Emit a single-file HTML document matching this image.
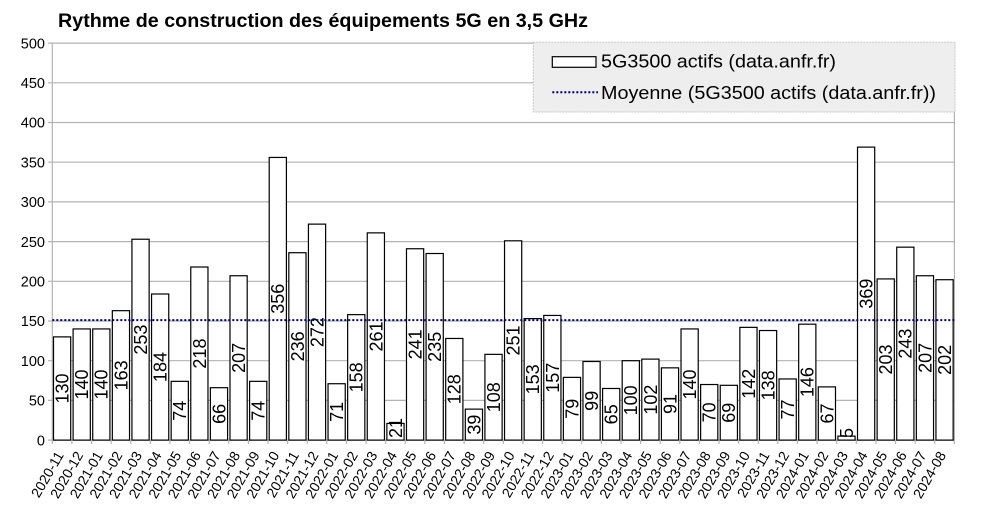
<!DOCTYPE html>
<html><head><meta charset="utf-8"><style>
html,body{margin:0;padding:0;background:#fff;}
svg{display:block;font-family:"Liberation Sans",Arial,sans-serif;}
.yl{font-size:14.5px;text-anchor:end;fill:#000;}
.xl{font-size:14px;text-anchor:end;fill:#000;}
.bl{font-size:18px;text-anchor:middle;fill:#000;}
.bar{fill:#fff;stroke:#000;stroke-width:1.2;}
</style></head><body>
<svg width="985" height="508" viewBox="0 0 985 508" xmlns="http://www.w3.org/2000/svg">
<rect x="0" y="0" width="985" height="508" fill="#fff"/>
<text x="58" y="27" font-size="19" font-weight="bold" textLength="530" lengthAdjust="spacingAndGlyphs">Rythme de construction des équipements 5G en 3,5 GHz</text>
<g stroke="#b3b3b3" stroke-width="1.2">
<line x1="48" y1="440.1" x2="954.4" y2="440.1"/>
<line x1="48" y1="400.4" x2="954.4" y2="400.4"/>
<line x1="48" y1="360.7" x2="954.4" y2="360.7"/>
<line x1="48" y1="321.0" x2="954.4" y2="321.0"/>
<line x1="48" y1="281.3" x2="954.4" y2="281.3"/>
<line x1="48" y1="241.6" x2="954.4" y2="241.6"/>
<line x1="48" y1="201.9" x2="954.4" y2="201.9"/>
<line x1="48" y1="162.2" x2="954.4" y2="162.2"/>
<line x1="48" y1="122.5" x2="954.4" y2="122.5"/>
<line x1="48" y1="82.8" x2="954.4" y2="82.8"/>
<line x1="48" y1="43.1" x2="954.4" y2="43.1"/>
<line x1="52.3" y1="43.1" x2="52.3" y2="444"/>
<line x1="954.4" y1="43.1" x2="954.4" y2="444"/>
<line x1="71.91" y1="440" x2="71.91" y2="444"/><line x1="91.52" y1="440" x2="91.52" y2="444"/><line x1="111.13" y1="440" x2="111.13" y2="444"/><line x1="130.74" y1="440" x2="130.74" y2="444"/><line x1="150.35" y1="440" x2="150.35" y2="444"/><line x1="169.96" y1="440" x2="169.96" y2="444"/><line x1="189.57" y1="440" x2="189.57" y2="444"/><line x1="209.18" y1="440" x2="209.18" y2="444"/><line x1="228.79" y1="440" x2="228.79" y2="444"/><line x1="248.4" y1="440" x2="248.4" y2="444"/><line x1="268.01" y1="440" x2="268.01" y2="444"/><line x1="287.62" y1="440" x2="287.62" y2="444"/><line x1="307.23" y1="440" x2="307.23" y2="444"/><line x1="326.84" y1="440" x2="326.84" y2="444"/><line x1="346.45" y1="440" x2="346.45" y2="444"/><line x1="366.06" y1="440" x2="366.06" y2="444"/><line x1="385.67" y1="440" x2="385.67" y2="444"/><line x1="405.28" y1="440" x2="405.28" y2="444"/><line x1="424.89" y1="440" x2="424.89" y2="444"/><line x1="444.5" y1="440" x2="444.5" y2="444"/><line x1="464.11" y1="440" x2="464.11" y2="444"/><line x1="483.72" y1="440" x2="483.72" y2="444"/><line x1="503.33" y1="440" x2="503.33" y2="444"/><line x1="522.94" y1="440" x2="522.94" y2="444"/><line x1="542.55" y1="440" x2="542.55" y2="444"/><line x1="562.16" y1="440" x2="562.16" y2="444"/><line x1="581.77" y1="440" x2="581.77" y2="444"/><line x1="601.38" y1="440" x2="601.38" y2="444"/><line x1="620.99" y1="440" x2="620.99" y2="444"/><line x1="640.6" y1="440" x2="640.6" y2="444"/><line x1="660.21" y1="440" x2="660.21" y2="444"/><line x1="679.82" y1="440" x2="679.82" y2="444"/><line x1="699.43" y1="440" x2="699.43" y2="444"/><line x1="719.04" y1="440" x2="719.04" y2="444"/><line x1="738.65" y1="440" x2="738.65" y2="444"/><line x1="758.26" y1="440" x2="758.26" y2="444"/><line x1="777.87" y1="440" x2="777.87" y2="444"/><line x1="797.48" y1="440" x2="797.48" y2="444"/><line x1="817.09" y1="440" x2="817.09" y2="444"/><line x1="836.7" y1="440" x2="836.7" y2="444"/><line x1="856.31" y1="440" x2="856.31" y2="444"/><line x1="875.92" y1="440" x2="875.92" y2="444"/><line x1="895.53" y1="440" x2="895.53" y2="444"/><line x1="915.14" y1="440" x2="915.14" y2="444"/><line x1="934.75" y1="440" x2="934.75" y2="444"/>
</g>
<g>
<text class="yl" x="45" y="445.3">0</text>
<text class="yl" x="45" y="405.6">50</text>
<text class="yl" x="45" y="365.9">100</text>
<text class="yl" x="45" y="326.2">150</text>
<text class="yl" x="45" y="286.5">200</text>
<text class="yl" x="45" y="246.8">250</text>
<text class="yl" x="45" y="207.1">300</text>
<text class="yl" x="45" y="167.4">350</text>
<text class="yl" x="45" y="127.7">400</text>
<text class="yl" x="45" y="88.0">450</text>
<text class="yl" x="45" y="48.3">500</text>
</g>

<g transform="translate(52.3,0)"><rect class="bar" x="1.2" y="336.88" width="17.2" height="103.22"/><text class="bl" transform="translate(16.2,388.49) rotate(-90)">130</text><text class="xl" transform="translate(11.8,455) rotate(-60)">2020-11</text></g>
<g transform="translate(71.91,0)"><rect class="bar" x="1.2" y="328.94" width="17.2" height="111.16"/><text class="bl" transform="translate(16.2,384.52) rotate(-90)">140</text><text class="xl" transform="translate(11.8,455) rotate(-60)">2020-12</text></g>
<g transform="translate(91.52,0)"><rect class="bar" x="1.2" y="328.94" width="17.2" height="111.16"/><text class="bl" transform="translate(16.2,384.52) rotate(-90)">140</text><text class="xl" transform="translate(11.8,455) rotate(-60)">2021-01</text></g>
<g transform="translate(111.13,0)"><rect class="bar" x="1.2" y="310.68" width="17.2" height="129.42"/><text class="bl" transform="translate(16.2,375.39) rotate(-90)">163</text><text class="xl" transform="translate(11.8,455) rotate(-60)">2021-02</text></g>
<g transform="translate(130.74,0)"><rect class="bar" x="1.2" y="239.22" width="17.2" height="200.88"/><text class="bl" transform="translate(16.2,339.66) rotate(-90)">253</text><text class="xl" transform="translate(11.8,455) rotate(-60)">2021-03</text></g>
<g transform="translate(150.35,0)"><rect class="bar" x="1.2" y="294.0" width="17.2" height="146.1"/><text class="bl" transform="translate(16.2,367.05) rotate(-90)">184</text><text class="xl" transform="translate(11.8,455) rotate(-60)">2021-04</text></g>
<g transform="translate(169.96,0)"><rect class="bar" x="1.2" y="381.34" width="17.2" height="58.76"/><text class="bl" transform="translate(16.2,410.72) rotate(-90)">74</text><text class="xl" transform="translate(11.8,455) rotate(-60)">2021-05</text></g>
<g transform="translate(189.57,0)"><rect class="bar" x="1.2" y="267.01" width="17.2" height="173.09"/><text class="bl" transform="translate(16.2,353.56) rotate(-90)">218</text><text class="xl" transform="translate(11.8,455) rotate(-60)">2021-06</text></g>
<g transform="translate(209.18,0)"><rect class="bar" x="1.2" y="387.7" width="17.2" height="52.4"/><text class="bl" transform="translate(16.2,413.9) rotate(-90)">66</text><text class="xl" transform="translate(11.8,455) rotate(-60)">2021-07</text></g>
<g transform="translate(228.79,0)"><rect class="bar" x="1.2" y="275.74" width="17.2" height="164.36"/><text class="bl" transform="translate(16.2,357.92) rotate(-90)">207</text><text class="xl" transform="translate(11.8,455) rotate(-60)">2021-08</text></g>
<g transform="translate(248.4,0)"><rect class="bar" x="1.2" y="381.34" width="17.2" height="58.76"/><text class="bl" transform="translate(16.2,410.72) rotate(-90)">74</text><text class="xl" transform="translate(11.8,455) rotate(-60)">2021-09</text></g>
<g transform="translate(268.01,0)"><rect class="bar" x="1.2" y="157.44" width="17.2" height="282.66"/><text class="bl" transform="translate(16.2,298.77) rotate(-90)">356</text><text class="xl" transform="translate(11.8,455) rotate(-60)">2021-10</text></g>
<g transform="translate(287.62,0)"><rect class="bar" x="1.2" y="252.72" width="17.2" height="187.38"/><text class="bl" transform="translate(16.2,346.41) rotate(-90)">236</text><text class="xl" transform="translate(11.8,455) rotate(-60)">2021-11</text></g>
<g transform="translate(307.23,0)"><rect class="bar" x="1.2" y="224.13" width="17.2" height="215.97"/><text class="bl" transform="translate(16.2,332.12) rotate(-90)">272</text><text class="xl" transform="translate(11.8,455) rotate(-60)">2021-12</text></g>
<g transform="translate(326.84,0)"><rect class="bar" x="1.2" y="383.73" width="17.2" height="56.37"/><text class="bl" transform="translate(16.2,411.92) rotate(-90)">71</text><text class="xl" transform="translate(11.8,455) rotate(-60)">2022-01</text></g>
<g transform="translate(346.45,0)"><rect class="bar" x="1.2" y="314.65" width="17.2" height="125.45"/><text class="bl" transform="translate(16.2,377.37) rotate(-90)">158</text><text class="xl" transform="translate(11.8,455) rotate(-60)">2022-02</text></g>
<g transform="translate(366.06,0)"><rect class="bar" x="1.2" y="232.87" width="17.2" height="207.23"/><text class="bl" transform="translate(16.2,336.48) rotate(-90)">261</text><text class="xl" transform="translate(11.8,455) rotate(-60)">2022-03</text></g>
<g transform="translate(385.67,0)"><rect class="bar" x="1.2" y="423.43" width="17.2" height="16.67"/><text class="bl" transform="translate(16.2,428) rotate(-90)">21</text><text class="xl" transform="translate(11.8,455) rotate(-60)">2022-04</text></g>
<g transform="translate(405.28,0)"><rect class="bar" x="1.2" y="248.75" width="17.2" height="191.35"/><text class="bl" transform="translate(16.2,344.42) rotate(-90)">241</text><text class="xl" transform="translate(11.8,455) rotate(-60)">2022-05</text></g>
<g transform="translate(424.89,0)"><rect class="bar" x="1.2" y="253.51" width="17.2" height="186.59"/><text class="bl" transform="translate(16.2,346.8) rotate(-90)">235</text><text class="xl" transform="translate(11.8,455) rotate(-60)">2022-06</text></g>
<g transform="translate(444.5,0)"><rect class="bar" x="1.2" y="338.47" width="17.2" height="101.63"/><text class="bl" transform="translate(16.2,389.28) rotate(-90)">128</text><text class="xl" transform="translate(11.8,455) rotate(-60)">2022-07</text></g>
<g transform="translate(464.11,0)"><rect class="bar" x="1.2" y="409.13" width="17.2" height="30.97"/><text class="bl" transform="translate(16.2,424.62) rotate(-90)">39</text><text class="xl" transform="translate(11.8,455) rotate(-60)">2022-08</text></g>
<g transform="translate(483.72,0)"><rect class="bar" x="1.2" y="354.35" width="17.2" height="85.75"/><text class="bl" transform="translate(16.2,397.22) rotate(-90)">108</text><text class="xl" transform="translate(11.8,455) rotate(-60)">2022-09</text></g>
<g transform="translate(503.33,0)"><rect class="bar" x="1.2" y="240.81" width="17.2" height="199.29"/><text class="bl" transform="translate(16.2,340.45) rotate(-90)">251</text><text class="xl" transform="translate(11.8,455) rotate(-60)">2022-10</text></g>
<g transform="translate(522.94,0)"><rect class="bar" x="1.2" y="318.62" width="17.2" height="121.48"/><text class="bl" transform="translate(16.2,379.36) rotate(-90)">153</text><text class="xl" transform="translate(11.8,455) rotate(-60)">2022-11</text></g>
<g transform="translate(542.55,0)"><rect class="bar" x="1.2" y="315.44" width="17.2" height="124.66"/><text class="bl" transform="translate(16.2,377.77) rotate(-90)">157</text><text class="xl" transform="translate(11.8,455) rotate(-60)">2022-12</text></g>
<g transform="translate(562.16,0)"><rect class="bar" x="1.2" y="377.37" width="17.2" height="62.73"/><text class="bl" transform="translate(16.2,408.74) rotate(-90)">79</text><text class="xl" transform="translate(11.8,455) rotate(-60)">2023-01</text></g>
<g transform="translate(581.77,0)"><rect class="bar" x="1.2" y="361.49" width="17.2" height="78.61"/><text class="bl" transform="translate(16.2,400.8) rotate(-90)">99</text><text class="xl" transform="translate(11.8,455) rotate(-60)">2023-02</text></g>
<g transform="translate(601.38,0)"><rect class="bar" x="1.2" y="388.49" width="17.2" height="51.61"/><text class="bl" transform="translate(16.2,414.3) rotate(-90)">65</text><text class="xl" transform="translate(11.8,455) rotate(-60)">2023-03</text></g>
<g transform="translate(620.99,0)"><rect class="bar" x="1.2" y="360.7" width="17.2" height="79.4"/><text class="bl" transform="translate(16.2,400.4) rotate(-90)">100</text><text class="xl" transform="translate(11.8,455) rotate(-60)">2023-04</text></g>
<g transform="translate(640.6,0)"><rect class="bar" x="1.2" y="359.11" width="17.2" height="80.99"/><text class="bl" transform="translate(16.2,399.61) rotate(-90)">102</text><text class="xl" transform="translate(11.8,455) rotate(-60)">2023-05</text></g>
<g transform="translate(660.21,0)"><rect class="bar" x="1.2" y="367.85" width="17.2" height="72.25"/><text class="bl" transform="translate(16.2,403.97) rotate(-90)">91</text><text class="xl" transform="translate(11.8,455) rotate(-60)">2023-06</text></g>
<g transform="translate(679.82,0)"><rect class="bar" x="1.2" y="328.94" width="17.2" height="111.16"/><text class="bl" transform="translate(16.2,384.52) rotate(-90)">140</text><text class="xl" transform="translate(11.8,455) rotate(-60)">2023-07</text></g>
<g transform="translate(699.43,0)"><rect class="bar" x="1.2" y="384.52" width="17.2" height="55.58"/><text class="bl" transform="translate(16.2,412.31) rotate(-90)">70</text><text class="xl" transform="translate(11.8,455) rotate(-60)">2023-08</text></g>
<g transform="translate(719.04,0)"><rect class="bar" x="1.2" y="385.31" width="17.2" height="54.79"/><text class="bl" transform="translate(16.2,412.71) rotate(-90)">69</text><text class="xl" transform="translate(11.8,455) rotate(-60)">2023-09</text></g>
<g transform="translate(738.65,0)"><rect class="bar" x="1.2" y="327.35" width="17.2" height="112.75"/><text class="bl" transform="translate(16.2,383.73) rotate(-90)">142</text><text class="xl" transform="translate(11.8,455) rotate(-60)">2023-10</text></g>
<g transform="translate(758.26,0)"><rect class="bar" x="1.2" y="330.53" width="17.2" height="109.57"/><text class="bl" transform="translate(16.2,385.32) rotate(-90)">138</text><text class="xl" transform="translate(11.8,455) rotate(-60)">2023-11</text></g>
<g transform="translate(777.87,0)"><rect class="bar" x="1.2" y="378.96" width="17.2" height="61.14"/><text class="bl" transform="translate(16.2,409.53) rotate(-90)">77</text><text class="xl" transform="translate(11.8,455) rotate(-60)">2023-12</text></g>
<g transform="translate(797.48,0)"><rect class="bar" x="1.2" y="324.18" width="17.2" height="115.92"/><text class="bl" transform="translate(16.2,382.14) rotate(-90)">146</text><text class="xl" transform="translate(11.8,455) rotate(-60)">2024-01</text></g>
<g transform="translate(817.09,0)"><rect class="bar" x="1.2" y="386.9" width="17.2" height="53.2"/><text class="bl" transform="translate(16.2,413.5) rotate(-90)">67</text><text class="xl" transform="translate(11.8,455) rotate(-60)">2024-02</text></g>
<g transform="translate(836.7,0)"><rect class="bar" x="1.2" y="436.13" width="17.2" height="3.97"/><text class="bl" transform="translate(16.2,433) rotate(-90)">5</text><text class="xl" transform="translate(11.8,455) rotate(-60)">2024-03</text></g>
<g transform="translate(856.31,0)"><rect class="bar" x="1.2" y="147.11" width="17.2" height="292.99"/><text class="bl" transform="translate(16.2,293.61) rotate(-90)">369</text><text class="xl" transform="translate(11.8,455) rotate(-60)">2024-04</text></g>
<g transform="translate(875.92,0)"><rect class="bar" x="1.2" y="278.92" width="17.2" height="161.18"/><text class="bl" transform="translate(16.2,359.51) rotate(-90)">203</text><text class="xl" transform="translate(11.8,455) rotate(-60)">2024-05</text></g>
<g transform="translate(895.53,0)"><rect class="bar" x="1.2" y="247.16" width="17.2" height="192.94"/><text class="bl" transform="translate(16.2,343.63) rotate(-90)">243</text><text class="xl" transform="translate(11.8,455) rotate(-60)">2024-06</text></g>
<g transform="translate(915.14,0)"><rect class="bar" x="1.2" y="275.74" width="17.2" height="164.36"/><text class="bl" transform="translate(16.2,357.92) rotate(-90)">207</text><text class="xl" transform="translate(11.8,455) rotate(-60)">2024-07</text></g>
<g transform="translate(934.75,0)"><rect class="bar" x="1.2" y="279.71" width="17.2" height="160.39"/><text class="bl" transform="translate(16.2,359.9) rotate(-90)">202</text><text class="xl" transform="translate(11.8,455) rotate(-60)">2024-08</text></g>

<line x1="52.3" y1="320.1" x2="954.4" y2="320.1" stroke="#000080" stroke-width="2" stroke-dasharray="2 2"/>

<rect x="533.3" y="42.3" width="421.7" height="69.7" fill="#eeeeee" stroke="#c8c8c8" stroke-width="1" stroke-dasharray="2 1"/>
<rect x="552.3" y="56.7" width="43.7" height="10.6" fill="#fff" stroke="#000" stroke-width="1.2"/>
<text x="601" y="67.5" font-size="18" fill="#000" textLength="235" lengthAdjust="spacingAndGlyphs">5G3500 actifs (data.anfr.fr)</text>
<line x1="552.3" y1="92.3" x2="598" y2="92.3" stroke="#000080" stroke-width="2" stroke-dasharray="2 2"/>
<text x="601" y="98.8" font-size="18" fill="#000" textLength="335" lengthAdjust="spacingAndGlyphs">Moyenne (5G3500 actifs (data.anfr.fr))</text>
</svg>
</body></html>
